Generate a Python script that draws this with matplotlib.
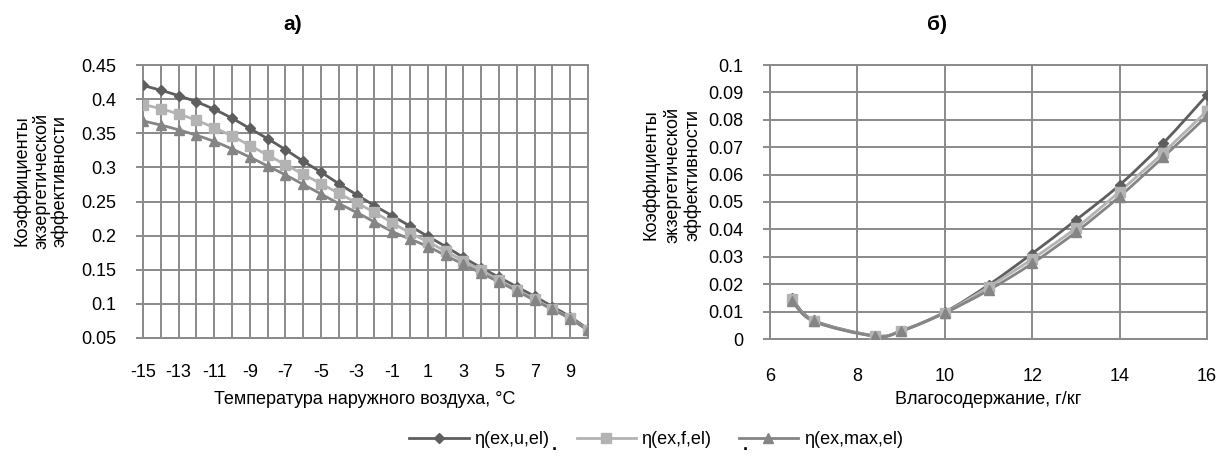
import matplotlib
matplotlib.use("Agg")
import matplotlib.pyplot as plt
import numpy as np
from matplotlib.path import Path
from matplotlib.patches import PathPatch
from matplotlib.lines import Line2D
from matplotlib.ticker import MultipleLocator, FuncFormatter

plt.rcParams['font.family'] = ['Liberation Sans', 'DejaVu Sans']
plt.rcParams['axes.unicode_minus'] = False

# ---- data: chart a) ----
temp = [-15, -14, -13, -12, -11, -10, -9, -8, -7, -6, -5, -4, -3, -2, -1,
        0, 1, 2, 3, 4, 5, 6, 7, 8, 9, 10]
eta_u_a = [0.420, 0.413, 0.405, 0.396, 0.385, 0.372, 0.357, 0.342, 0.326, 0.309,
           0.293, 0.276, 0.260, 0.244, 0.229, 0.214, 0.199, 0.184, 0.168, 0.153,
           0.139, 0.125, 0.111, 0.096, 0.081, 0.063]
eta_f_a = [0.392, 0.386, 0.378, 0.369, 0.358, 0.346, 0.332, 0.318, 0.304, 0.290,
           0.276, 0.262, 0.248, 0.234, 0.219, 0.204, 0.191, 0.177, 0.163, 0.149,
           0.135, 0.121, 0.107, 0.093, 0.079, 0.062]
eta_max_a = [0.368, 0.362, 0.355, 0.347, 0.338, 0.327, 0.315, 0.302, 0.289, 0.275,
             0.261, 0.247, 0.234, 0.220, 0.206, 0.195, 0.184, 0.171, 0.158, 0.145,
             0.132, 0.119, 0.105, 0.092, 0.078, 0.061]

# ---- data: chart б) ----
moist = [6.5, 7, 8.4, 9, 10, 11, 12, 13, 14, 15, 16]
eta_u_b = [0.0150, 0.0068, 0.0012, 0.0030, 0.0098, 0.0197, 0.0312, 0.0434, 0.0562, 0.0715, 0.0890]
eta_f_b = [0.0145, 0.0066, 0.0011, 0.0029, 0.0096, 0.0190, 0.0292, 0.0405, 0.0538, 0.0680, 0.0833]
eta_max_b = [0.0140, 0.0064, 0.0010, 0.0028, 0.0095, 0.0178, 0.0276, 0.0390, 0.0520, 0.0664, 0.0814]

labels = ['η(ex,u,el)', 'η(ex,f,el)', 'η(ex,max,el)']
colors = ['#5e5e5e', '#b3b3b3', '#858585']
markers = ['D', 's', '^']
msizes = [5.5, 7, 7.5]

GRID = '#8a8a8a'


def smooth_path(x, y):
    x = np.asarray(x, float)
    y = np.asarray(y, float)
    n = len(x)
    verts = [(x[0], y[0])]
    codes = [Path.MOVETO]
    for i in range(n - 1):
        p0 = np.array([x[max(i - 1, 0)], y[max(i - 1, 0)]])
        p1 = np.array([x[i], y[i]])
        p2 = np.array([x[i + 1], y[i + 1]])
        p3 = np.array([x[min(i + 2, n - 1)], y[min(i + 2, n - 1)]])
        c1 = p1 + (p2 - p0) / 6.0
        c2 = p2 - (p3 - p1) / 6.0
        verts += [tuple(c1), tuple(c2), tuple(p2)]
        codes += [Path.CURVE4] * 3
    return Path(verts, codes)


def draw_series(ax, x, ys):
    for y, c, m, ms in zip(ys, colors, markers, msizes):
        ax.add_patch(PathPatch(smooth_path(x, y), facecolor='none', edgecolor=c,
                               lw=2.0, zorder=3, capstyle='round', joinstyle='round'))
        ax.plot(x, y, ls='none', marker=m, ms=ms, color=c, mec=c, zorder=4)


fmt = FuncFormatter(lambda v, p: f"{round(v, 4):g}")

fig = plt.figure(figsize=(12.21, 4.57), dpi=100)

# ---- axes a) ----
ax1 = fig.add_axes([143 / 1221, 1 - 338 / 457, 445 / 1221, 273 / 457])
draw_series(ax1, temp, [eta_u_a, eta_f_a, eta_max_a])
ax1.set_xlim(-15, 10)
ax1.set_ylim(0.05, 0.45)
ax1.set_xticks(np.arange(-15, 10, 2))
ax1.xaxis.set_minor_locator(MultipleLocator(1))
ax1.yaxis.set_major_locator(MultipleLocator(0.05))
ax1.yaxis.set_major_formatter(fmt)
ax1.grid(True, which='both', color=GRID, lw=1.4)

# ---- axes б) ----
ax2 = fig.add_axes([770 / 1221, 1 - 339 / 457, 437 / 1221, 274 / 457])
draw_series(ax2, moist, [eta_u_b, eta_f_b, eta_max_b])
ax2.set_xlim(6, 16)
ax2.set_ylim(0, 0.1)
ax2.xaxis.set_major_locator(MultipleLocator(2))
ax2.yaxis.set_major_locator(MultipleLocator(0.01))
ax2.yaxis.set_major_formatter(fmt)
ax2.grid(True, which='major', color=GRID, lw=1.4)

for ax, xpad in ((ax1, 19), (ax2, 21)):
    ax.set_axisbelow(True)
    for s in ax.spines.values():
        s.set_color(GRID)
        s.set_linewidth(1.4)
    ax.tick_params(axis='y', length=5, width=1.4, color=GRID, pad=14,
                   labelsize=13, labelcolor='black')
    ax.tick_params(axis='x', which='both', length=0, pad=xpad,
                   labelsize=13, labelcolor='black')

# ---- texts ----
fig.text(293 / 1221, 1 - 25 / 457, 'а)', ha='center', va='center',
         fontsize=15, fontweight='bold')
fig.text(937 / 1221, 1 - 25 / 457, 'б)', ha='center', va='center',
         fontsize=15, fontweight='bold')

ylab = 'Коэффициенты\nэкзергетической\nэффективности'
fig.text(41 / 1221, 1 - 181 / 457, ylab, rotation=90, ha='center', va='center',
         multialignment='center', fontsize=13, linespacing=1.1)
fig.text(672 / 1221, 1 - 175 / 457, ylab, rotation=90, ha='center', va='center',
         multialignment='center', fontsize=13, linespacing=1.25)

fig.text(365 / 1221, 1 - 400 / 457, 'Температура наружного воздуха, °C',
         ha='center', va='center', fontsize=13)
fig.text(988 / 1221, 1 - 400 / 457, 'Влагосодержание, г/кг',
         ha='center', va='center', fontsize=13)

# ---- legend ----
handles = [Line2D([], [], color=c, lw=2.0, marker=m, ms=ms, mec=c)
           for c, m, ms in zip(colors, markers, msizes)]
fig.legend(handles, labels, loc='center', bbox_to_anchor=(656 / 1221, 1 - 440 / 457),
           ncol=3, frameon=False, fontsize=13, handlelength=3.3, handletextpad=0.3,
           columnspacing=1.5)
fig.text(554 / 1221, 1 - 446 / 457, '.', ha='center', va='center',
         fontsize=13, fontweight='bold')
fig.text(745 / 1221, 1 - 446 / 457, '.', ha='center', va='center',
         fontsize=13, fontweight='bold')

fig.savefig('out.png', dpi=100)
